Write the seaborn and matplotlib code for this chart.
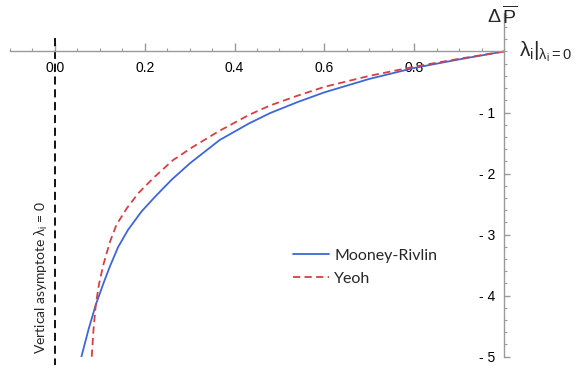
import numpy as np
import pandas as pd
import matplotlib
matplotlib.use("Agg")
import matplotlib.pyplot as plt
import seaborn as sns
from matplotlib.ticker import MultipleLocator, FixedLocator

# ---- data ----
mr_lambda = [0.059, 0.075, 0.091, 0.108, 0.1225, 0.141, 0.163, 0.193, 0.223, 0.260,
             0.301, 0.367, 0.432, 0.479, 0.540, 0.600, 0.700, 0.800, 0.900, 1.000]
mr_dp = [-5.00, -4.55, -4.15, -3.80, -3.52, -3.20, -2.92, -2.62, -2.38, -2.10,
         -1.83, -1.45, -1.18, -1.01, -0.83, -0.67, -0.45, -0.27, -0.13, 0.00]

yeoh_lambda = [0.082, 0.086, 0.091, 0.098, 0.1076, 0.1225, 0.137, 0.160, 0.186, 0.221,
               0.263, 0.308, 0.364, 0.432, 0.479, 0.540, 0.600, 0.700, 0.800, 0.900, 1.000]
yeoh_dp = [-5.00, -4.55, -4.15, -3.82, -3.50, -3.12, -2.84, -2.57, -2.32, -2.06,
           -1.78, -1.56, -1.31, -1.04, -0.885, -0.725, -0.58, -0.40, -0.25, -0.12, 0.00]

x_ticks = [0.0, 0.2, 0.4, 0.6, 0.8]
x_tick_labels = ["0.0", "0.2", "0.4", "0.6", "0.8"]
y_ticks = [-1, -2, -3, -4, -5]
y_tick_labels = ["- 1", "- 2", "- 3", "- 4", "- 5"]
series_names = ["Mooney-Rivlin", "Yeoh"]

df = pd.concat([
    pd.DataFrame({"lam": mr_lambda, "dp": mr_dp, "model": series_names[0]}),
    pd.DataFrame({"lam": yeoh_lambda, "dp": yeoh_dp, "model": series_names[1]}),
])

sns.set_style("white")
plt.rcParams["font.family"] = ["Liberation Sans", "DejaVu Sans"]
plt.rcParams["mathtext.fontset"] = "custom"
plt.rcParams["mathtext.rm"] = "Liberation Sans"
plt.rcParams["mathtext.it"] = "Liberation Sans"
plt.rcParams["mathtext.sf"] = "Liberation Sans"

fig = plt.figure(figsize=(5.78, 3.80), dpi=100)
ax = fig.add_axes([10 / 578, (380 - 356.7) / 380, 494 / 578, 343.7 / 380])

blue = "#3f66d8"
red = "#d6403f"

sns.lineplot(data=df[df["model"] == series_names[0]], x="lam", y="dp", ax=ax,
             color=blue, lw=1.3, estimator=None, label=series_names[0])
sns.lineplot(data=df[df["model"] == series_names[1]], x="lam", y="dp", ax=ax,
             color=red, lw=1.3, estimator=None, label=series_names[1])
ax.lines[1].set_dashes((4.0, 2.4))

ax.set_xlim(-0.1, 1.0)
ax.set_ylim(-5.0, 0.63)

# asymptote
ax.plot([0, 0], [0.22, -5.13], color="black", lw=1.3, dashes=(4.5, 2.6),
        clip_on=False, zorder=1)

axis_col = "#9a9a9a"
for s in ["top", "right"]:
    ax.spines[s].set_visible(False)
ax.spines["bottom"].set_position(("data", 0))
ax.spines["left"].set_position(("data", 1.0))
for s in ["bottom", "left"]:
    ax.spines[s].set_color(axis_col)
    ax.spines[s].set_linewidth(1.0)

ax.xaxis.set_major_locator(FixedLocator(x_ticks))
ax.set_xticklabels(x_tick_labels)
ax.xaxis.set_minor_locator(MultipleLocator(0.05))
ax.yaxis.set_major_locator(FixedLocator(y_ticks))
ax.set_yticklabels(y_tick_labels)
ax.yaxis.set_minor_locator(MultipleLocator(0.2))

ax.tick_params(axis="x", which="both", direction="in", colors=axis_col,
               labelcolor="black", labelsize=10, pad=7, bottom=True)
ax.tick_params(axis="x", which="major", length=5.5, width=1.0)
ax.tick_params(axis="x", which="minor", length=2.5, width=0.8)
ax.tick_params(axis="y", which="both", direction="in", colors=axis_col,
               labelcolor="black", labelsize=10, pad=6.5, left=True)
ax.tick_params(axis="y", which="major", length=4.5, width=1.0)
ax.tick_params(axis="y", which="minor", length=2.5, width=0.8)
ax.set_xlabel("")
ax.set_ylabel("")

# axis labels
fig.text(502 / 578, 1 - 16 / 380, r"$\Delta\,\overline{\mathrm{P}}$", fontsize=14,
         ha="center", va="center")
fig.text(519 / 578, 1 - 52 / 380, r"$\lambda_{\mathrm{i}}|_{\lambda_{\mathrm{i}}=0}$",
         fontsize=15, ha="left", va="center")

ax.text(-0.012, -3.7, r"Vertical asymptote $\lambda_{\mathrm{i}}$ = 0",
        rotation=90, ha="right", va="center", fontsize=10,
        family=["Lato", "DejaVu Sans"])

leg = ax.legend(loc="upper left", bbox_to_anchor=(269 / 494, (356.7 - 234) / 343.7),
                frameon=False, handlelength=2.2, handletextpad=0.35,
                labelspacing=0.55, prop={"family": "Lato", "size": 11.5})

fig.savefig("out.png", dpi=100)
